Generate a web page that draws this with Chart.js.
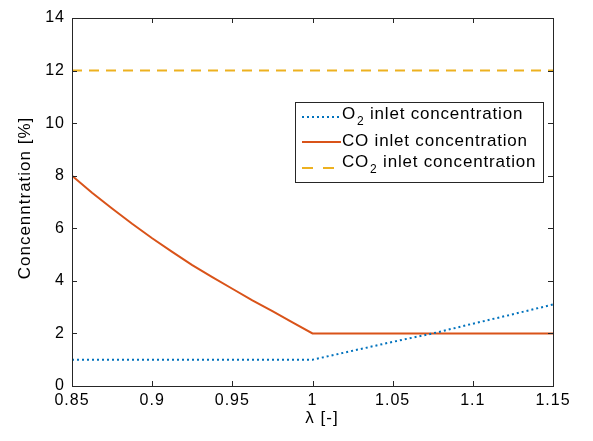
<!DOCTYPE html>
<html>
<head>
<meta charset="utf-8">
<script src="https://cdn.jsdelivr.net/npm/chart.js@4.4.0/dist/chart.umd.min.js"></script>
<style>
	html, body { margin: 0; padding: 0; background: #fff; }
	#wrap { width: 593px; height: 441px; }
</style>
</head>
<body>
<div id="wrap"><canvas id="chart" width="593" height="441"></canvas></div>
<script>
// values
const xTicks = [0.85, 0.9, 0.95, 1, 1.05, 1.1, 1.15];
const xTickLabels = ['0.85', '0.9', '0.95', '1', '1.05', '1.1', '1.15'];
const yTicks = [0, 2, 4, 6, 8, 10, 12, 14];

const lambdaO2 = [0.85, 1.0, 1.025, 1.05, 1.075, 1.1, 1.125, 1.15];
const o2Values = [1.0, 1.0, 1.34, 1.68, 2.0, 2.37, 2.73, 3.1];

const lambdaCO = [0.85, 0.8625, 0.875, 0.8875, 0.9, 0.9125, 0.925, 0.9375, 0.95, 0.9625, 0.975, 0.9875, 1.0, 1.15];
const coValues = [8.0, 7.35, 6.75, 6.17, 5.62, 5.1, 4.6, 4.14, 3.7, 3.26, 2.85, 2.42, 2.0, 2.0];

const lambdaCO2 = [0.85, 1.15];
const co2Values = [12, 12];

const seriesNames = [['O', '2', ' inlet concentration'], ['CO', '', ' inlet concentration'], ['CO', '2', ' inlet concentration']];
const colors = ['#0072BD', '#D95319', '#EDB120'];
const dashes = [[2, 3], [], [10, 7]];

const FONT = 'Liberation Sans, Arial, Helvetica, sans-serif';
const AXIS = '#262626';

const toPoints = (xs, ys) => xs.map((x, i) => ({x: x, y: ys[i]}));

// box, inward ticks, axis titles and the legend (subscripts need manual drawing)
const decorations = {
	id: 'decorations',
	beforeDraw: function (chart) {
		chart.ctx.letterSpacing = '1px';
	},
	afterDraw: function (chart) {
		const ctx = chart.ctx;
		const a = chart.chartArea;
		const xs = chart.scales.x;
		const ys = chart.scales.y;
		ctx.save();
		ctx.letterSpacing = '0px';
		ctx.strokeStyle = AXIS;
		ctx.lineWidth = 1;
		ctx.strokeRect(Math.round(a.left) + 0.5, Math.round(a.top) + 0.5,
			Math.round(a.right - a.left), Math.round(a.bottom - a.top));
		ctx.beginPath();
		xTicks.forEach((v) => {
			const px = Math.round(xs.getPixelForValue(v)) + 0.5;
			ctx.moveTo(px, a.bottom); ctx.lineTo(px, a.bottom - 5);
			ctx.moveTo(px, a.top); ctx.lineTo(px, a.top + 5);
		});
		yTicks.forEach((v) => {
			const py = Math.round(ys.getPixelForValue(v)) + 0.5;
			ctx.moveTo(a.left, py); ctx.lineTo(a.left + 5, py);
			ctx.moveTo(a.right, py); ctx.lineTo(a.right - 5, py);
		});
		ctx.stroke();

		// axis titles
		ctx.letterSpacing = '1px';
		ctx.fillStyle = '#000';
		ctx.textAlign = 'center';
		ctx.textBaseline = 'middle';
		ctx.font = '17px ' + FONT;
		ctx.fillText('\u03bb [-]', 322, 418);
		ctx.save();
		ctx.translate(25, 198);
		ctx.rotate(-Math.PI / 2);
		ctx.fillText('Concenntration [%]', 0, 0);
		ctx.restore();

		// legend
		const lx = 295, ly = 102, lw = 248, lh = 80;
		ctx.fillStyle = '#fff';
		ctx.fillRect(lx, ly, lw, lh);
		ctx.strokeStyle = AXIS;
		ctx.lineWidth = 1;
		ctx.strokeRect(lx + 0.5, ly + 0.5, lw, lh);
		const lineY = [117, 142, 168];
		const textY = [114, 141, 162];
		seriesNames.forEach((parts, i) => {
			ctx.strokeStyle = colors[i];
			ctx.lineWidth = 2;
			ctx.setLineDash(i === 2 ? [11, 10] : dashes[i]);
			ctx.beginPath();
			ctx.moveTo(302, lineY[i]); ctx.lineTo(341, lineY[i]);
			ctx.stroke();
			ctx.setLineDash([]);
			ctx.fillStyle = '#000';
			ctx.textAlign = 'left';
			ctx.textBaseline = 'middle';
			const y = textY[i];
			let x = 342;
			ctx.letterSpacing = '0.8px';
			ctx.font = '17px ' + FONT;
			ctx.fillText(parts[0], x, y);
			x += ctx.measureText(parts[0]).width;
			if (parts[1]) {
				ctx.font = '12px ' + FONT;
				ctx.fillText(parts[1], x + 1, y + 8);
				x += ctx.measureText(parts[1]).width + 1;
			}
			ctx.font = '17px ' + FONT;
			ctx.fillText(parts[2], x, y);
		});
		ctx.restore();
	}
};

const makeSet = (i, xs, ys) => ({
	data: toPoints(xs, ys),
	borderColor: colors[i],
	borderWidth: 2,
	borderDash: dashes[i],
	pointRadius: 0,
	fill: false,
	tension: 0
});

new Chart(document.getElementById('chart'), {
	type: 'line',
	data: {
		datasets: [
			makeSet(0, lambdaO2, o2Values),
			makeSet(1, lambdaCO, coValues),
			makeSet(2, lambdaCO2, co2Values)
		]
	},
	options: {
		responsive: false,
		animation: false,
		devicePixelRatio: 1,
		layout: { padding: { top: 18, right: 40, left: 0, bottom: 0 } },
		plugins: { legend: { display: false }, tooltip: { enabled: false } },
		scales: {
			x: {
				type: 'linear',
				min: 0.85,
				max: 1.15,
				grid: { display: false, drawTicks: false },
				border: { display: false },
				afterBuildTicks: (scale) => { scale.ticks = xTicks.map((v) => ({value: v})); },
				afterFit: (scale) => { scale.height = 55; },
				ticks: {
					color: '#000',
					font: { family: FONT, size: 16 },
					padding: 5,
					maxRotation: 0,
					autoSkip: false,
					callback: (v) => xTickLabels[xTicks.indexOf(v)]
				}
			},
			y: {
				min: 0,
				max: 14,
				grid: { display: false, drawTicks: false },
				border: { display: false },
				afterBuildTicks: (scale) => { scale.ticks = yTicks.map((v) => ({value: v})); },
				afterFit: (scale) => { scale.width = 72; },
				ticks: {
					color: '#000',
					font: { family: FONT, size: 16 },
					padding: 7,
					autoSkip: false,
					callback: (v) => String(v)
				}
			}
		}
	},
	plugins: [decorations]
});
</script>
</body>
</html>
